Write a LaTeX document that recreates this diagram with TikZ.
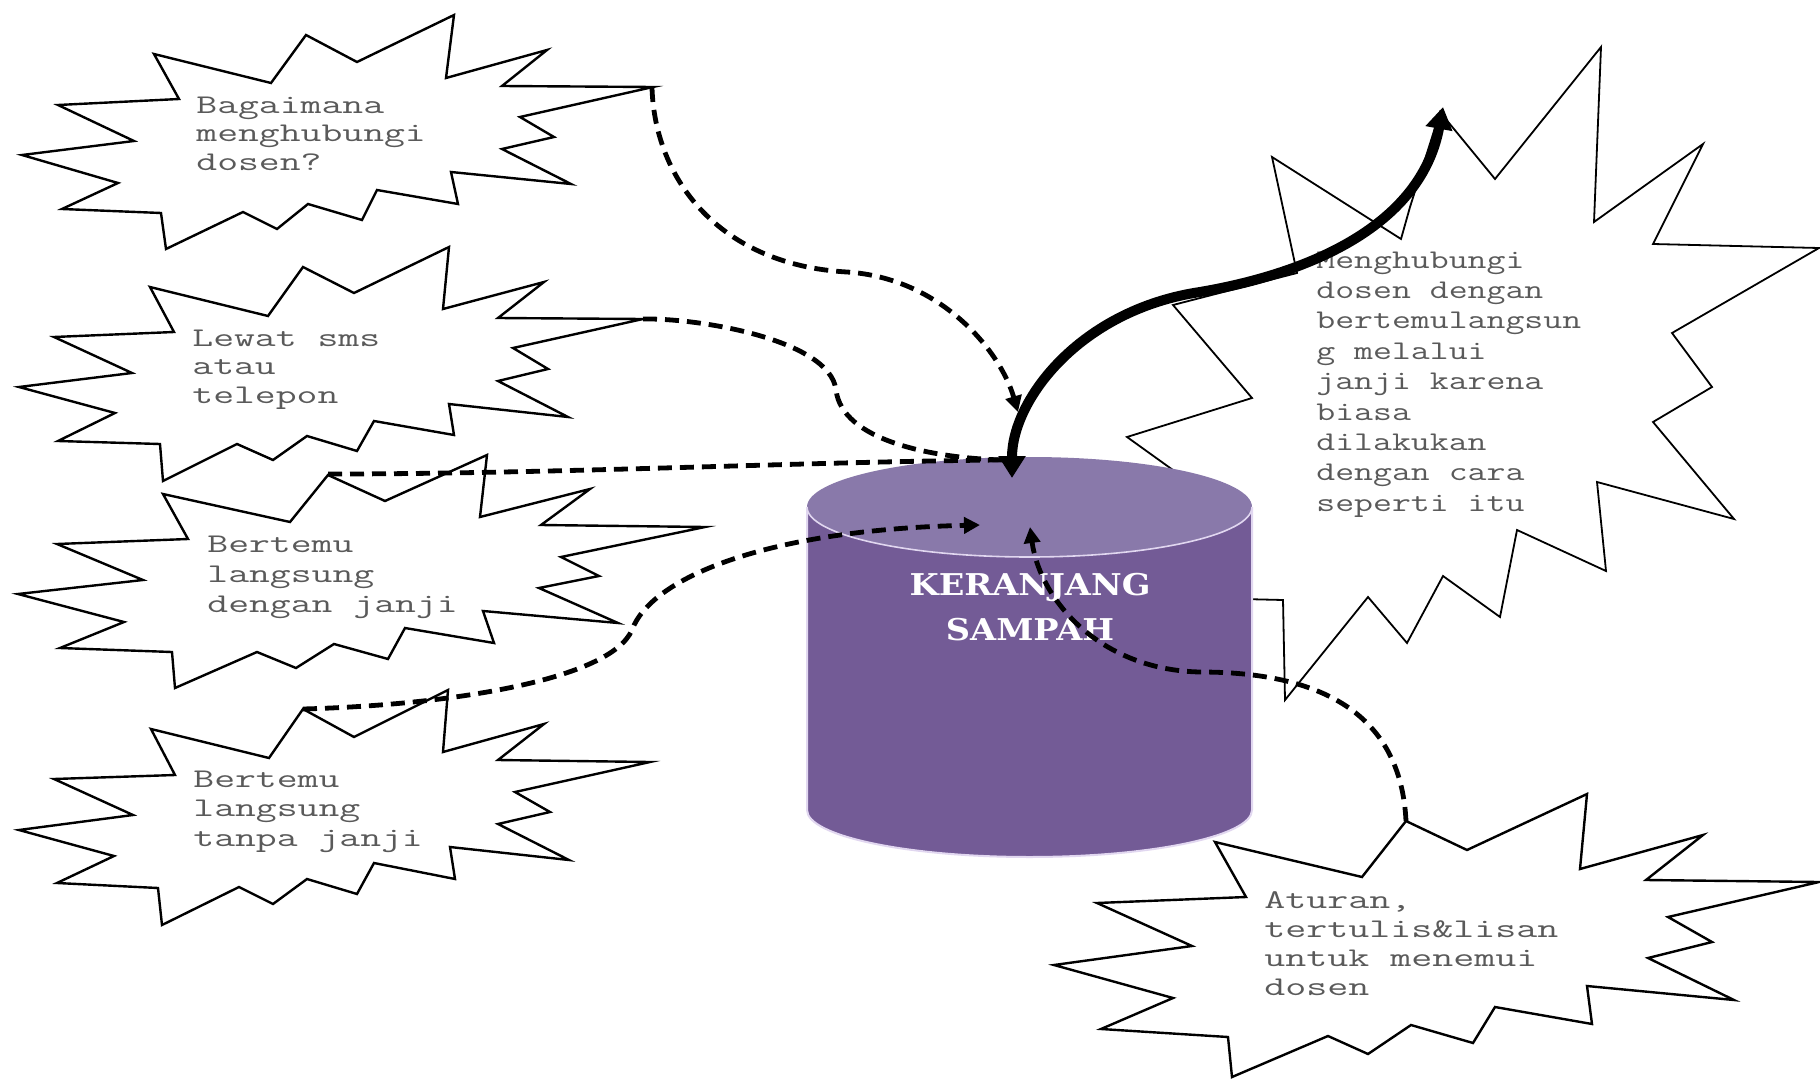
\documentclass[tikz,border=0pt]{standalone}
\usepackage{fontspec}
\usepackage{graphicx}
\usetikzlibrary{arrows.meta}
\newfontfamily\slabf{DejaVu Serif}
\definecolor{binbody}{RGB}{115,91,150}
\definecolor{bintop}{RGB}{137,121,170}
\definecolor{binedge}{RGB}{225,215,240}
\definecolor{txtgray}{RGB}{90,90,90}
\newcommand{\bt}[3]{\scalebox{#1}[1]{\vtop{\baselineskip=#2\lineskiplimit=-100pt\lineskip=0pt #3}}}
\tikzset{
  burst/.style={draw=black, fill=white, line width=1.2pt, line join=miter},
  bigburst/.style={draw=black, fill=white, line width=0.9pt, line join=miter},
  bubtxt/.style={anchor=base west, inner sep=0pt, font=\ttfamily\fontsize{13.5pt}{14.5pt}\selectfont, text=txtgray},
  bintxt/.style={inner sep=0pt, align=center, text=white, font=\slabf\bfseries\fontsize{15pt}{22.5pt}\selectfont},
  dashlink/.style={draw=black, line width=2.4pt, dash pattern=on 7pt off 4pt},
  boldlink/.style={draw=black, line width=5pt},
  smalltip/.style={-{Triangle[length=8pt,width=8pt]}}
}
\begin{document}
\begin{tikzpicture}[x=0.5pt,y=-0.5pt]
\fill[white] (0,0) rectangle (1820,1081);
\useasboundingbox (0,0) rectangle (1820,1081);

% ---------- bursts on the left ----------
\draw[burst] (22,155) -- (134,141) -- (58,105) -- (179,99) -- (154,54) -- (271,83) -- (306,35) -- (357,62) -- (454,15) -- (446,78) -- (547,50) -- (502,86) -- (653,87) -- (520,117) -- (554,137) -- (502,149) -- (571,184) -- (451,172) -- (458,204) -- (377,190) -- (362,220) -- (308,204) -- (277,229) -- (243,212) -- (166,249) -- (161,213) -- (62,209) -- (118,183) -- cycle;
\node[bubtxt] (t1) at (196,113) {\bt{1.5}{14.25pt}{\hbox{Bagaimana}\hbox{menghubungi}\hbox{dosen?}}};

\draw[burst] (19,387) -- (132,373) -- (54,337) -- (174,332) -- (150,287) -- (268,316) -- (303,267) -- (354,293) -- (449,247) -- (443,309) -- (544,282) -- (498,318) -- (643,319) -- (513,348) -- (548,369) -- (498,381) -- (568,417) -- (449,404) -- (454,435) -- (374,421) -- (357,451) -- (307,436) -- (273,460) -- (237,444) -- (163,481) -- (160,444) -- (58,441) -- (115,413) -- cycle;
\node[bubtxt] (t2) at (192,346) {\bt{1.5}{14.25pt}{\hbox{Lewat sms}\hbox{atau}\hbox{telepon}}};

\draw[burst] (18,594) -- (143,580) -- (57,544) -- (188,539) -- (163,494) -- (290,522) -- (328,475) -- (385,501) -- (487,455) -- (480,517) -- (590,489) -- (541,525) -- (705,527) -- (561,557) -- (599,576) -- (539,588) -- (618,623) -- (483,611) -- (494,643) -- (405,628) -- (388,659) -- (334,644) -- (296,668) -- (257,652) -- (175,688) -- (172,652) -- (60,648) -- (124,622) -- cycle;
\node[bubtxt] (t3) at (207,552) {\bt{1.5}{15pt}{\hbox{Bertemu}\hbox{langsung}\hbox{dengan janji}}};

\draw[burst] (19,830) -- (133,815) -- (54,779) -- (175,775) -- (151,729) -- (269,758) -- (303,709) -- (354,737) -- (448,690) -- (443,752) -- (544,724) -- (498,760) -- (650,762) -- (515,792) -- (550,812) -- (498,824) -- (569,860) -- (450,847) -- (455,879) -- (374,863) -- (357,894) -- (307,879) -- (273,904) -- (239,887) -- (162,925) -- (158,888) -- (57,883) -- (114,856) -- cycle;
\node[bubtxt] (t4) at (193,787) {\bt{1.5}{14.75pt}{\hbox{Bertemu}\hbox{langsung}\hbox{tanpa janji}}};

% ---------- big burst on the right ----------
\draw[bigburst] (1127,437) -- (1252,398) -- (1173,305) -- (1297,273) -- (1272,157) -- (1401,239) -- (1410,207) -- (1440,112) -- (1495,179) -- (1601,47) -- (1594,222) -- (1703,144) -- (1653,244) -- (1819,248) -- (1672,333) -- (1712,387) -- (1653,422) -- (1734,519) -- (1597,482) -- (1606,571) -- (1517,530) -- (1500,617) -- (1443,576) -- (1407,643) -- (1368,597) -- (1285,700) -- (1283,600) -- (1200,598) -- (1230,511) -- cycle;
\node[bubtxt] (t5) at (1316,268) {\bt{1.36}{15.2pt}{\hbox{Menghubungi}\hbox{dosen dengan}\hbox{bertemulangsun}\hbox{g melalui}\hbox{janji karena}\hbox{biasa}\hbox{dilakukan}\hbox{dengan cara}\hbox{seperti itu}}};

% ---------- burst bottom right ----------
\draw[burst] (1054,965) -- (1192,946) -- (1097,903) -- (1246,897) -- (1215,842) -- (1362,877) -- (1406,821) -- (1467,850) -- (1587,794) -- (1580,869) -- (1703,835) -- (1646,880) -- (1819,882) -- (1668,917) -- (1712,942) -- (1648,958) -- (1734,1000) -- (1587,986) -- (1592,1024) -- (1495,1007) -- (1473,1043) -- (1411,1025) -- (1368,1054) -- (1328,1036) -- (1232,1077) -- (1228,1037) -- (1101,1029) -- (1173,998) -- cycle;
\node[bubtxt] (t6) at (1264,908) {\bt{1.51}{14.6pt}{\hbox{Aturan,}\hbox{tertulis\&lisan}\hbox{untuk menemui}\hbox{dosen}}};

% ---------- cylinder ----------
\fill[binbody] (807,507) -- (807,810) arc[start angle=180, end angle=0, x radius=222.5, y radius=47] -- (1252,507) -- cycle;
\draw[binedge, line width=1pt] (807,507) -- (807,810) arc[start angle=180, end angle=0, x radius=222.5, y radius=47] -- (1252,507);
\fill[bintop] (1029.5,507) ellipse[x radius=222.5, y radius=50];
\draw[binedge, line width=0.8pt] (807,507) arc[start angle=180, end angle=0, x radius=222.5, y radius=50];
\node[bintxt] (bin) at (1030,607) {\scalebox{1.12}[1]{KERANJANG}\\\scalebox{1.12}[1]{SAMPAH}};

% ---------- connector end points ----------
\coordinate (s1) at (652,88);
\coordinate (s2) at (643,319);
\coordinate (s3) at (328,474);
\coordinate (s4) at (303,709);
\coordinate (s5) at (1406,821);
\coordinate (e1) at (1018,412);
\coordinate (e2) at (1003,460);
\coordinate (e3) at (998,460);
\coordinate (e4) at (980,525);
\coordinate (e5) at (1030,527);
\coordinate (hb) at (1012,478);
\coordinate (ht) at (1443,107);

% ---------- dashed connectors ----------
\draw[dashlink, smalltip] (s1) .. controls (655,180) and (720,265) .. (847,272) .. controls (940,278) and (1000,350) .. (e1);
\draw[dashlink] (s2) .. controls (700,318) and (830,340) .. (836,390) .. controls (842,440) and (930,458) .. (e2);
\draw[dashlink] (s3) .. controls (550,474) and (800,462) .. (e3);
\draw[dashlink, smalltip] (s4) .. controls (450,705) and (610,680) .. (632,630) .. controls (650,580) and (760,530) .. (e4);
\draw[dashlink, smalltip] (s5) .. controls (1400,700) and (1300,672) .. (1200,672) .. controls (1100,670) and (1040,600) .. (e5);

% ---------- bold arrow ----------
\draw[boldlink, {Triangle[length=11pt,width=13pt]}-{Triangle[length=11pt,width=13pt]}] (hb) .. controls (1012,400) and (1080,310) .. (1200,292) .. controls (1300,275) and (1420,230) .. (ht);
\end{tikzpicture}
\end{document}
